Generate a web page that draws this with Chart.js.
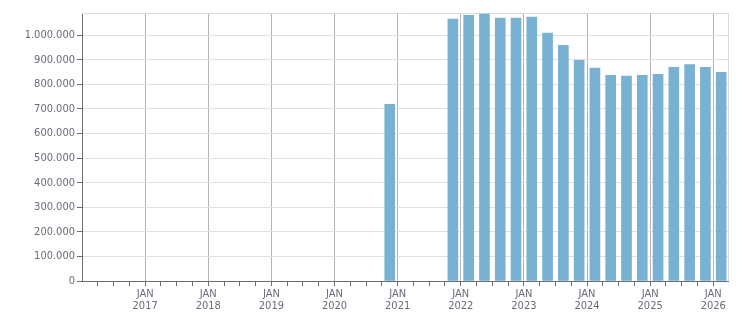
<!DOCTYPE html>
<html>
<head>
<meta charset="utf-8">
<script src="https://cdn.jsdelivr.net/npm/chart.js@4.4.0/dist/chart.umd.min.js"></script>
<style>
html,body{margin:0;padding:0;background:#fff;}
#wrap{width:751px;height:313px;}
</style>
</head>
<body>
<div id="wrap"><canvas id="c" width="751" height="313"></canvas></div>
<script>
// Quarterly values (bars placed at mid-quarter)
const quarters = ['2020-Q4','2021-Q4',
  '2022-Q1','2022-Q2','2022-Q3','2022-Q4',
  '2023-Q1','2023-Q2','2023-Q3','2023-Q4',
  '2024-Q1','2024-Q2','2024-Q3','2024-Q4',
  '2025-Q1','2025-Q2','2025-Q3','2025-Q4',
  '2026-Q1'];
const values = [719000, 1065000,
  1081000, 1086000, 1069000, 1069000,
  1073000, 1008000, 959000, 898000,
  866000, 837000, 833000, 837000,
  841000, 869000, 880000, 869000,
  849000];
const yTicks = [0,100000,200000,300000,400000,500000,600000,700000,800000,900000,1000000];
const tickMonthLabel = 'JAN';
const xMinYear = 2016, xMaxYear = 2026.233, yMax = 1090000;

function qToX(q){ const [y, qq] = q.split('-Q'); return +y + (+qq - 1)/4 + 0.125; }
const points = quarters.map((q,i)=>({x:qToX(q), y:values[i]}));
function fmt(v){ return String(v).replace(/\B(?=(\d{3})+(?!\d))/g,'.'); }
const isYear = v => Math.abs(v - Math.round(v)) < 1e-6;

const frame = {
  id:'frame',
  beforeDatasetsDraw(chart){
    const {ctx, chartArea:a} = chart;
    ctx.save();
    ctx.strokeStyle = '#dcdcdc'; ctx.lineWidth = 1;
    ctx.beginPath();
    ctx.moveTo(a.left, a.top + 0.5); ctx.lineTo(a.right + 0.5, a.top + 0.5);
    ctx.lineTo(a.right + 0.5, a.bottom);
    ctx.stroke();
    ctx.restore();
  }
};

const FONT = "'DejaVu Sans Condensed', 'Liberation Sans', sans-serif";
new Chart(document.getElementById('c'), {
  type:'bar',
  data:{ datasets:[{ data: points, backgroundColor:'#79b1d2', borderWidth:0, barThickness:10 }] },
  options:{
    responsive:false, animation:false,
    layout:{ padding:{ top:13, right:23, left:0, bottom:0 } },
    plugins:{ legend:{display:false}, tooltip:{enabled:false} },
    scales:{
      x:{
        type:'linear', min:xMinYear, max:xMaxYear, offset:false,
        afterBuildTicks(s){ const t=[]; for(let v=xMinYear+0.25; v<=2026.0001; v+=0.25) t.push({value: Math.round(v*100)/100}); s.ticks=t; },
        afterFit(s){ s.height = 32; },
        border:{ color:'#6e6e6e', width:1 },
        grid:{ offset:false, drawTicks:true, tickLength:5,
          color: c => (c.tick && isYear(c.tick.value) && c.tick.value > xMinYear) ? '#b4b4b4' : 'rgba(0,0,0,0)',
          tickColor:'#6e6e6e' },
        ticks:{ autoSkip:false, maxRotation:0, padding:2, color:'#6a6a7a',
          font:{ family:FONT, size:11, lineHeight:1.1 },
          callback: v => (isYear(v) && v > xMinYear) ? [tickMonthLabel, String(Math.round(v))] : '' }
      },
      y:{
        min:0, max:yMax,
        afterBuildTicks(s){ s.ticks = yTicks.map(v=>({value:v})); },
        afterFit(s){ s.width = 82; },
        border:{ color:'#6e6e6e', width:1 },
        grid:{ color:'#e0e0e0', tickLength:5, tickColor:'#6e6e6e' },
        ticks:{ padding:2, color:'#6a6a7a', font:{ family:FONT, size:11 }, callback: v => fmt(v) }
      }
    }
  },
  plugins:[frame]
});
</script>
</body>
</html>
